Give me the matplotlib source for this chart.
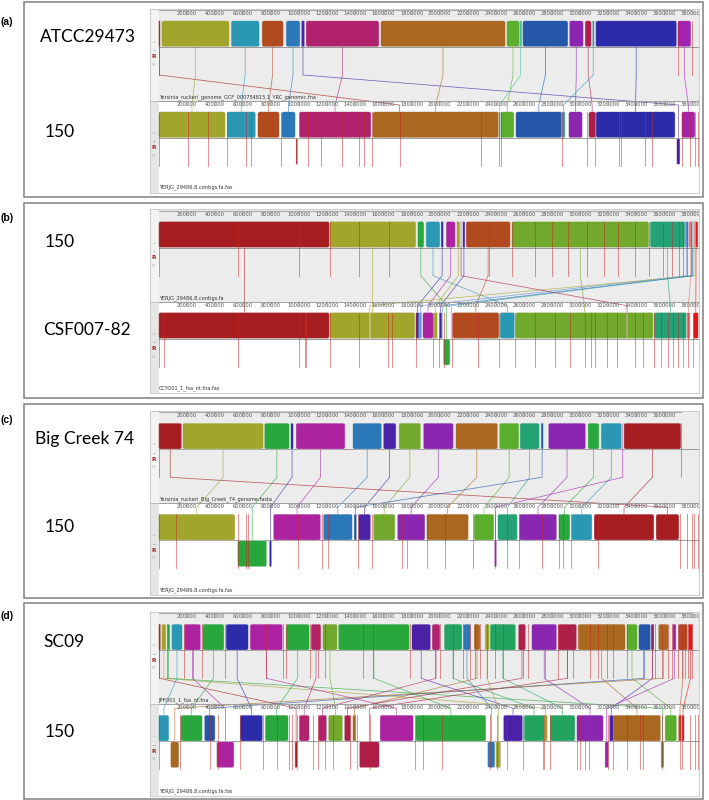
import matplotlib
matplotlib.use("Agg")
import matplotlib.pyplot as plt
from matplotlib.patches import Rectangle, FancyBboxPatch

# ---- data (genome positions in kb) ----
# LCB: (colour, top_start, top_end, bottom_start, bottom_end, bottom_inverted)
A_LCBS = [
    ("dkred", 0, 11, 1712, 1718, False),
    ("olive", 21, 502, 0, 474, False),
    ("teal", 515, 716, 486, 690, False),
    ("rust", 735, 887, 705, 858, False),
    ("blue", 906, 1006, 875, 972, False),
    ("indigo", 1015, 1039, 3687, 3710, True),
    ("crimmag", 1048, 1568, 999, 1511, False),
    ("brown", 1580, 2467, 1523, 2420, False),
    ("green", 2477, 2566, 2434, 2529, False),
    ("lteal", 2566, 2586, 2422, 2432, False),
    ("royal", 2591, 2913, 2541, 2870, False),
    ("violet", 2922, 3022, 2918, 3015, False),
    ("crimson", 3034, 3079, 3060, 3110, False),
    ("teal", 3086, 3100, 2870, 2892, False),
    ("navy", 3110, 3687, 3112, 3675, False),
    ("purple", 3694, 3788, 3722, 3817, False),
]
A_EXTRA = [("dkred", 977, 989, True)]
A_TOP_CUTS = [0, 3694, 3793]
A_BOT_CUTS = [0, 211, 353, 484, 621, 655, 870, 1065, 1155, 1302, 1428, 1461, 1518,
              1718, 2292, 2420, 2434, 2872, 3046, 3105, 3278, 3288, 3463, 3509,
              3722, 3780, 3816, 3838]

B_LCBS = [
    ("dkred", 0, 1214, 0, 1214, False),
    ("olive", 1214, 1831, 1217, 1824, False),
    ("kgreen", 1843, 1888, 2026, 2073, True),
    ("teal", 1902, 2002, 2429, 2534, False),
    ("navy", 2009, 2026, 1829, 1853, False),
    ("magenta", 2045, 2111, 1879, 1954, False),
    ("olive", 2121, 2144, 1959, 1983, False),
    ("indigo", 2164, 2180, 1997, 2016, False),
    ("rust", 2187, 2502, 2092, 2422, False),
    ("ygreen", 2512, 3489, 2541, 3520, False),
    ("tgreen", 3497, 3746, 3525, 3758, False),
    ("lblue", 3746, 3770, 1853, 1872, False),
    ("pink", 3770, 3803, 3758, 3782, False),
    ("red", 3810, 3838, 3805, 3840, False),
    ("olive", 3815, 3820, 1500, 1505, False),
    ("teal", 3800, 3805, 2080, 2084, False),
    ("blue", 3795, 3800, 2020, 2024, False),
    ("crimson", 2150, 2154, 3331, 3335, False),
]
B_EXTRA = []
B_TOP_CUTS = [0, 567, 1001, 1219, 1428, 1641, 2353, 2512, 2678, 2797, 2915, 3046,
              3169, 3271, 3390, 3492, 3591, 3651, 3705, 3734, 3762, 3786]
B_BOT_CUTS = [0, 40, 567, 1001, 1041, 1048, 1219, 1428, 1634, 1658, 1831, 1954,
              1997, 2031, 2085, 2275, 2424, 2536, 2678, 2820, 2927, 3034, 3074,
              3105, 3188, 3260, 3390, 3449, 3523, 3577, 3624, 3660, 3698, 3734,
              3769, 3805]

C_LCBS = [
    ("dkred", 0, 164, 3539, 3703, False),
    ("olive", 171, 745, 0, 543, False),
    ("kgreen", 752, 930, 562, 769, True),
    ("navy", 940, 958, 787, 804, True),
    ("magenta", 977, 1326, 816, 1153, False),
    ("blue", 1381, 1587, 1171, 1378, False),
    ("indigo", 1598, 1689, 1421, 1509, False),
    ("ygreen", 1710, 1865, 1527, 1682, False),
    ("violet", 1883, 2097, 1698, 1895, False),
    ("brown", 2114, 2413, 1907, 2204, False),
    ("green", 2424, 2564, 2244, 2386, False),
    ("tgreen", 2571, 2709, 2413, 2552, False),
    ("royal", 2721, 2737, 1390, 1409, False),
    ("violet", 2773, 3039, 2566, 2833, False),
    ("kgreen", 3055, 3134, 2847, 2927, False),
    ("teal", 3148, 3295, 2939, 3084, False),
    ("purple", 3300, 3305, 2389, 2405, True),
    ("dkred", 3311, 3717, 3098, 3525, False),
]
C_EXTRA = []
C_TOP_CUTS = [0, 3717]
C_BOT_CUTS = [0, 123, 562, 619, 638, 994, 1160, 1207, 1421, 1516, 1729, 1765,
              1907, 2038, 2239, 2393, 2481, 2566, 2726, 2849, 2880, 2932, 3129,
              3713, 3762, 3793, 3810, 3836]

D_LCBS = [
    ("dkred", 0, 14, 970, 986, True),
    ("olive", 21, 52, 2742, 2766, False),
    ("kgreen", 61, 80, 3575, 3596, True),
    ("teal", 92, 168, 0, 73, False),
    ("magenta", 182, 299, 413, 536, True),
    ("kgreen", 313, 465, 157, 310, False),
    ("navy", 479, 638, 579, 740, False),
    ("magenta", 650, 882, 1575, 1812, False),
    ("kgreen", 906, 1072, 757, 922, False),
    ("crimmag", 1084, 1155, 999, 1072, False),
    ("ygreen", 1167, 1271, 1207, 1310, False),
    ("kgreen", 1278, 1784, 1829, 2329, False),
    ("indigo", 1801, 1936, 2453, 2591, False),
    ("crimmag", 1945, 2002, 1136, 1196, False),
    ("seagreen", 2031, 2159, 2600, 2742, False),
    ("blue", 2168, 2220, 2341, 2393, True),
    ("brown", 2244, 2287, 1381, 1404, False),
    ("olive", 2322, 2353, 2400, 2434, True),
    ("seagreen", 2358, 2541, 2785, 2963, False),
    ("crimson", 2559, 2612, 1321, 1366, False),
    ("violet", 2655, 2833, 2975, 3164, False),
    ("crimson", 2842, 2975, 1428, 1570, True),
    ("brown", 2984, 3321, 3235, 3573, False),
    ("green", 3331, 3406, 3603, 3687, False),
    ("royal", 3416, 3502, 325, 401, False),
    ("indigo", 3504, 3525, 3207, 3235, False),
    ("brown", 3556, 3627, 85, 144, True),
    ("purple", 3658, 3682, 3176, 3200, True),
    ("rust", 3698, 3765, 3698, 3722, False),
    ("red", 3770, 3800, 3724, 3740, False),
]
D_EXTRA = []
D_TOP_CUTS = [0, 57, 180, 246, 308, 472, 764, 887, 906, 1077, 1136, 1184, 1456,
              1527, 1788, 1966, 2002, 2097, 2168, 2215, 2251, 2286, 2334, 2393,
              2452, 2595, 2630, 2749, 2844, 2904, 2951, 3070, 3129, 3188, 3235,
              3331, 3449, 3509, 3532, 3580, 3627, 3651, 3698, 3722, 3745, 3769,
              3793]
D_BOT_CUTS = [0, 152, 365, 424, 579, 744, 840, 929, 947, 982, 1100, 1136, 1184,
              1243, 1361, 1409, 1504, 1824, 1883, 2014, 2358, 2406, 2477, 2595,
              2733, 2744, 2785, 2975, 2998, 3034, 3065, 3200, 3235, 3331, 3425,
              3449, 3580, 3710, 3722, 3780, 3816, 3838]

GENOME_NAMES = [("ATCC29473", "150"), ("150", "CSF007-82"),
                ("Big Creek 74", "150"), ("SC09", "150")]
FILE_NAMES = [
    ("Yersinia_ruckeri_genome_GCF_000754815.1_YRC_genomic.fna", "YERJG_29486.8.contigs.fa.fas"),
    ("YERJG_29486.8.contigs.fa", "CCYO01_1_fsa_nt.fna.fas"),
    ("Yersinia_ruckeri_Big_Creek_74_genome.fasta", "YERJG_29486.8.contigs.fa.fas"),
    ("JPFO01_1_fsa_nt.fna", "YERJG_29486.8.contigs.fa.fas"),
]
GENOME_LEN_KB = [(3790, 3850), (3850, 3850), (3717, 3850), (3795, 3850)]
PANEL_LETTERS = ["(a)", "(b)", "(c)", "(d)"]

PALETTE = {
    "dkred": "#a61e22", "olive": "#a2a52b", "teal": "#2a98b2", "rust": "#b24a20",
    "blue": "#2a78b8", "indigo": "#4a22a8", "crimmag": "#b0226e", "brown": "#a9671f",
    "green": "#5aae2b", "lteal": "#48c0a8", "royal": "#2456aa", "violet": "#8a26b0",
    "crimson": "#ad1f48", "navy": "#2c2caa", "purple": "#a322b2", "magenta": "#ac22a0",
    "ygreen": "#72a82b", "tgreen": "#24a276", "kgreen": "#28a83c", "seagreen": "#22a460",
    "red": "#e51515", "pink": "#e07a7a", "lblue": "#5a8ad8",
}

PANELS = [
    dict(lcbs=A_LCBS, extra=A_EXTRA, top_cuts=A_TOP_CUTS, bot_cuts=A_BOT_CUTS),
    dict(lcbs=B_LCBS, extra=B_EXTRA, top_cuts=B_TOP_CUTS, bot_cuts=B_BOT_CUTS),
    dict(lcbs=C_LCBS, extra=C_EXTRA, top_cuts=C_TOP_CUTS, bot_cuts=C_BOT_CUTS),
    dict(lcbs=D_LCBS, extra=D_EXTRA, top_cuts=D_TOP_CUTS, bot_cuts=D_BOT_CUTS),
]

# ---- layout (pixels) ----
W, H = 709, 800
KB_PER_PX = 7.117
X0_PX, WIN_L, WIN_R = 158.7, 150.0, 699.3
WIN_TOP = [10.0, 210.7, 412.3, 613.3]
BOXES = [(1.7, 196.7), (203.3, 398.3), (404.0, 598.3), (603.3, 799.0)]
LETTER_Y = [22.0, 218.3, 420.0, 615.7]
NAME_XY = [((40, 36.7), (44.3, 132.3)), ((44.3, 241.7), (43.3, 330.0)),
           ((35, 439.3), (44.3, 526.7)), ((43.3, 641.7), (44.3, 731.7))]
# offsets inside a Mauve window
RULER1, BLK1, BLK_H, DROP, NAME1 = 0.0, 10.8, 26.0, 65.0, 87.0
RULER2, BLK2, CUT_END2, NAME2, WIN_H = 91.0, 101.8, 156.0, 177.5, 182.5

XL = (WIN_L - X0_PX) * KB_PER_PX
XR = (WIN_R - X0_PX) * KB_PER_PX


def add_block(ax, s, e, y0, color):
    w = e - s
    r = min(2.0 * KB_PER_PX, w * 0.3)
    ax.add_patch(FancyBboxPatch((s, y0), w, BLK_H,
                                boxstyle=f"round,pad=0,rounding_size={r}",
                                mutation_aspect=1 / KB_PER_PX,
                                fc=color, ec="#dedede", lw=0.3, zorder=3))


def draw_ruler(ax, y, length):
    ax.plot([0, length], [y, y], color="#9a9a9a", lw=0.6, zorder=5)
    for t in range(200, int(length) + 100, 200):
        if t > length + 60:
            break
        ax.plot([t, t], [y, y + 4.5], color="#777777", lw=0.35, zorder=5, clip_on=True)
        ax.text(t, y + 3.5, f"{t * 1000}", fontsize=3.7, color="#555555",
                ha="center", va="center", zorder=5, clip_on=True)


def draw_controls(ax, yb):
    cx = -36
    ax.text(cx, yb + 22.5, "^", fontsize=4, color="#aaaaaa", ha="center", va="center")
    ax.text(cx, yb + 30.5, "–", fontsize=4, color="#555555", ha="center", va="center")
    ax.text(cx, yb + 36, "R", fontsize=4.2, color="#a02525", ha="center", va="center",
            fontweight="bold")
    ax.text(cx, yb + 43.5, "v", fontsize=4, color="#aaaaaa", ha="center", va="center")


fig = plt.figure(figsize=(W / 100, H / 100), dpi=100)
bg = fig.add_axes([0, 0, 1, 1])
bg.set_xlim(0, W)
bg.set_ylim(H, 0)
bg.axis("off")

for i, panel in enumerate(PANELS):
    top = WIN_TOP[i]
    y0, y1 = BOXES[i]
    bg.add_patch(Rectangle((24, y0), 678.7, y1 - y0, fill=False, ec="#808080", lw=1.1))
    bg.text(0.5, LETTER_Y[i], PANEL_LETTERS[i], fontsize=7.5, fontweight="bold",
            family="Liberation Sans", ha="left", va="center")
    for (nx, ny), label in zip(NAME_XY[i], GENOME_NAMES[i]):
        bg.text(nx, ny, label, fontsize=12.5, family="Lato", ha="left", va="center")

    ax = fig.add_axes([WIN_L / W, 1 - (top + WIN_H) / H,
                       (WIN_R - WIN_L) / W, (WIN_H + 1.5) / H])
    ax.set_xlim(XL, XR)
    ax.set_ylim(top + WIN_H, top - 1.5)
    ax.set_xticks([])
    ax.set_yticks([])
    for sp in ax.spines.values():
        sp.set_color("#c4c4c4")
        sp.set_linewidth(0.6)

    # backgrounds
    ax.add_patch(Rectangle((XL, top - 1.5), XR - XL, RULER2 + 1.5, fc="#ececec", ec="none", zorder=0))
    ax.add_patch(Rectangle((XL, top - 1.5), -XL, RULER2 + 1.5, fc="#f3f3f3", ec="none", zorder=0))
    ax.add_patch(Rectangle((XL, top + RULER2), -XL, WIN_H - RULER2, fc="#e6e6e6", ec="none", zorder=0))

    len_top, len_bot = GENOME_LEN_KB[i]
    ctr1 = top + BLK1 + BLK_H
    ctr2 = top + BLK2 + BLK_H
    ax.plot([0, XR], [ctr1, ctr1], color="#8c8c8c", lw=0.6, zorder=1)
    ax.plot([0, XR], [ctr2, ctr2], color="#8c8c8c", lw=0.6, zorder=1)
    ax.plot([XL, XR], [top + RULER2, top + RULER2], color="#b0b0b0", lw=0.5, zorder=1)
    draw_ruler(ax, top + RULER1, len_top)
    draw_ruler(ax, top + RULER2, len_bot)
    draw_controls(ax, top + BLK1)
    draw_controls(ax, top + BLK2)

    # connecting lines and blocks
    for color, ts, te, bs, be, inv in panel["lcbs"]:
        c = PALETTE[color]
        tx, bx = (ts + te) / 2, (bs + be) / 2
        yend = ctr2 if inv else top + BLK2
        ax.plot([tx, tx, bx, bx], [ctr1, top + DROP, top + RULER2 + 4, yend],
                color=c, lw=0.55, alpha=0.7, zorder=2)
        add_block(ax, ts, te, top + BLK1, c)
        add_block(ax, bs, be, ctr2 + 0.6 if inv else top + BLK2, c)
    for color, bs, be, inv in panel["extra"]:
        add_block(ax, bs, be, ctr2 + 0.6 if inv else top + BLK2, PALETTE[color])

    # contig boundaries
    for x in panel["top_cuts"]:
        ax.plot([x, x], [top + BLK1, top + DROP], color="#c62828", lw=0.6, alpha=0.6, zorder=4)
    for x in panel["bot_cuts"]:
        ax.plot([x, x], [top + BLK2, top + CUT_END2], color="#c62828", lw=0.6, alpha=0.6, zorder=4)

    ax.text(0, top + NAME1, FILE_NAMES[i][0], fontsize=3.6, color="#333333",
            ha="left", va="center", zorder=6)
    ax.text(0, top + NAME2, FILE_NAMES[i][1], fontsize=3.6, color="#333333",
            ha="left", va="center", zorder=6)

fig.savefig("out.png", dpi=100)
